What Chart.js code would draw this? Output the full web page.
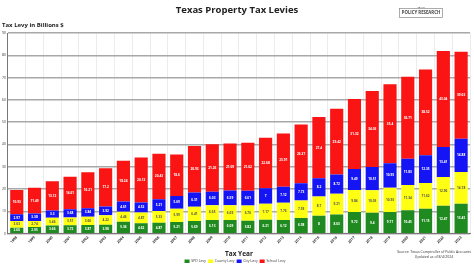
<!DOCTYPE html>
<html>
<head>
<meta charset="utf-8">
<script src="https://cdn.jsdelivr.net/npm/chart.js"></script>
<style>
  html, body { margin: 0; padding: 0; background: #fff; }
  #wrap { width: 474px; height: 266px; }
</style>
</head>
<body>
<div id="wrap"><canvas id="levyChart" width="474" height="266"></canvas></div>
<script>
// Levy values in billions of dollars
const years = ['1998', '1999', '2000', '2001', '2002', '2003', '2004', '2005', '2006', '2007', '2008', '2009', '2010',
    '2011', '2012', '2013', '2014', '2015', '2016', '2017', '2018', '2019', '2020', '2021', '2022', '2023'];
const spdLevy = [2.66, 2.95, 3.66, 3.72, 3.87, 3.98, 5.36, 4.62, 4.87, 5.21, 5.69, 6.13, 6.09,
    5.82, 6.21, 6.12, 6.98, 8.00, 8.63, 9.72, 9.40, 9.71, 10.45, 11.15, 12.47, 13.45];
const countyLevy = [3.03, 2.74, 3.46, 3.51, 3.66, 4.22, 4.46, 4.87, 5.33, 5.99, 6.41, 6.65, 6.69,
    6.76, 7.17, 7.76, 7.93, 8.70, 9.21, 9.84, 10.03, 10.93, 11.34, 11.62, 12.96, 14.18];
const cityLevy = [2.97, 3.38, 3.30, 3.68, 3.84, 3.92, 4.61, 4.52, 5.21, 5.69, 6.31, 6.03, 6.59,
    6.61, 7.00, 7.12, 7.73, 8.20, 8.72, 9.49, 10.51, 10.93, 11.83, 12.35, 13.41, 14.88];
const schoolLevy = [10.93, 11.49, 13.12, 14.61, 16.21, 17.20, 18.24, 20.13, 20.43, 18.60, 20.93, 21.26, 21.09,
    21.62, 22.68, 23.91, 26.37, 27.40, 29.42, 31.32, 34.03, 35.40, 36.71, 38.52, 43.04, 39.03];
const yTicks = [0, 10, 20, 30, 40, 50, 60, 70, 80, 90];

const FONT = '"Open Sans", "Noto Sans", sans-serif';

// white value labels in the middle of each segment
const segmentLabels = {
    id: 'segmentLabels',
    afterDatasetsDraw(chart) {
        const ctx = chart.ctx;
        ctx.save();
        ctx.font = 'bold 3.2px ' + FONT;
        ctx.textAlign = 'center';
        ctx.textBaseline = 'middle';
        chart.data.datasets.forEach((ds, i) => {
            const meta = chart.getDatasetMeta(i);
            ctx.fillStyle = ds.labelColor || '#ffffff';
            meta.data.forEach((bar, j) => {
                ctx.fillText(String(ds.data[j]), bar.x, (bar.y + bar.base) / 2);
            });
        });
        ctx.restore();
    }
};

// title, axis caption, logo and source note
const decorations = {
    id: 'decorations',
    afterDraw(chart) {
        const ctx = chart.ctx;
        ctx.save();
        ctx.fillStyle = '#222';
        ctx.textAlign = 'center';
        ctx.textBaseline = 'middle';
        ctx.font = 'bold 9.5px ' + FONT;
        ctx.fillText('Texas Property Tax Levies', 237, 10);

        ctx.textAlign = 'left';
        ctx.font = 'bold 6px ' + FONT;
        ctx.fillText('Tax Levy in Billions $', 2, 25);

        // logo box
        ctx.strokeStyle = '#888';
        ctx.lineWidth = 0.7;
        ctx.strokeRect(399.5, 8.5, 43, 9);
        ctx.fillStyle = '#444';
        ctx.textAlign = 'center';
        ctx.font = 'bold 4.3px ' + FONT;
        ctx.fillText('POLICY RESEARCH', 421, 13);
        ctx.font = '2.5px ' + FONT;
        ctx.fillText('TEXAS', 421, 7.5);

        // source
        ctx.fillStyle = '#333';
        ctx.font = '3.5px ' + FONT;
        ctx.fillText('Source: Texas Comptroller of Public Accounts', 434, 251.5);
        ctx.fillText('Updated as of 8/4/2024', 434, 256.5);
        ctx.restore();
    }
};

const ctx = document.getElementById('levyChart').getContext('2d');
new Chart(ctx, {
    type: 'bar',
    data: {
        labels: years,
        datasets: [
            { label: 'SPD Levy', data: spdLevy, backgroundColor: '#1f8a1f', borderWidth: 0 },
            { label: 'County Levy', data: countyLevy, backgroundColor: '#ffff14', labelColor: '#555', borderWidth: 0 },
            { label: 'City Levy', data: cityLevy, backgroundColor: '#1414f5', borderWidth: 0 },
            { label: 'School Levy', data: schoolLevy, backgroundColor: '#fa1414', borderWidth: 0 }
        ]
    },
    options: {
        responsive: false,
        animation: false,
        layout: { padding: { top: 33, left: 0, right: 4, bottom: -7 } },
        datasets: { bar: { barPercentage: 0.74, categoryPercentage: 1 } },
        plugins: {
            title: { display: false },
            tooltip: { enabled: false },
            legend: {
                position: 'bottom',
                labels: {
                    boxWidth: 5, boxHeight: 3.5, padding: 2,
                    color: '#333',
                    font: { size: 3.5, family: FONT, lineHeight: 1 }
                }
            }
        },
        scales: {
            x: {
                stacked: true,
                grid: { color: '#ececec', lineWidth: 1, drawTicks: false },
                border: { color: '#777' },
                ticks: {
                    minRotation: 45, maxRotation: 45, padding: 2,
                    color: '#333', font: { size: 3.6, family: FONT, weight: 'bold', lineHeight: 1 }
                },
                title: {
                    display: true, text: 'Tax Year', color: '#222',
                    font: { size: 6.5, weight: 'bold', family: FONT, lineHeight: 1 },
                    padding: { top: 5, bottom: 0 }
                }
            },
            y: {
                stacked: true,
                min: 0, max: 90,
                afterBuildTicks: (axis) => { axis.ticks = yTicks.map(v => ({ value: v })); },
                grid: { color: '#a8a8a8', lineWidth: 1.4, drawTicks: false },
                border: { color: '#777' },
                ticks: { padding: 2, color: '#333', font: { size: 3.4, family: FONT, lineHeight: 1 } }
            }
        }
    },
    plugins: [segmentLabels, decorations]
});
</script>
</body>
</html>
